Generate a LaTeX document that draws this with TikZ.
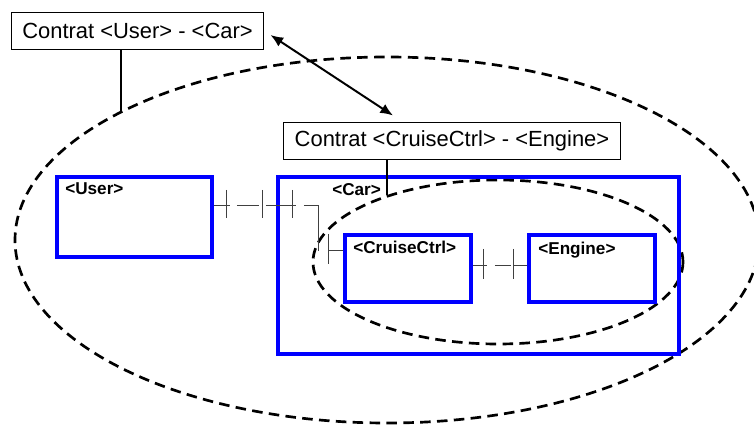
\documentclass[tikz,border=0pt]{standalone}
\usepackage{fontspec}
\setmainfont{Liberation Sans}
\usetikzlibrary{arrows.meta}

\tikzset{
  comp/.style={draw=blue, line width=2.8pt, anchor=north west, inner sep=0pt},
  complabel/.style={anchor=base west, inner sep=0pt, font=\fontsize{12.2}{14}\selectfont\bfseries},
  contract/.style={draw, fill=white, line width=0.7pt, minimum width=#1, minimum height=0.9cm, inner sep=0pt, font=\fontsize{15.6}{18}\selectfont},
  contour/.style={dash pattern=on 7.5pt off 4.5pt, line width=1.9pt},
  wire/.style={draw=black!75, line width=0.7pt},
  refine/.style={{Latex[length=9pt,width=7.5pt]}-{Latex[length=9pt,width=7.5pt]}, line width=1.4pt},
}

\begin{document}
\begin{tikzpicture}[x=0.025cm, y=-0.025cm]
    \useasboundingbox (0,0) rectangle (754,425);

    % Contract scopes
    \draw[contour] (387,240) ellipse [x radius=372, y radius=183];
    \draw[contour] (498,262) ellipse [x radius=185, y radius=82];

    % Components
    \node[comp, minimum width=3.875cm, minimum height=2cm] (user) at (55,175) {};
    \node[comp, minimum width=10.025cm, minimum height=4.425cm] (car) at (276,175) {};
    \node[comp, minimum width=3.15cm, minimum height=1.675cm] (cruise) at (343,233) {};
    \node[comp, minimum width=3.15cm, minimum height=1.675cm] (engine) at (527,233) {};

    % Component names
    \node[complabel] (userlbl) at (65,195) {<User>};
    \node[complabel] (carlbl) at (332,196) {<Car>};
    \node[complabel] (cruiselbl) at (353,254) {<CruiseCtrl>};
    \node[complabel] (enginelbl) at (538,255) {<Engine>};

    % Ports between User, Car and CruiseCtrl
    \draw[wire] ([shift={(0,-11)}]user.east) -- ++(16,0) ++(7,0) -- ++(22,0)
        ++(7,0) -- ++(30,0) ++(8,0) -- ++(15,0) -- ++(0,45);
    \draw[wire] ([shift={(-15,-17.5)}]cruise.west) -- ++(15,0);
    \foreach \tx in {226,262,292} {
        \draw[wire] (\tx,190) -- (\tx,218);
    }
    \draw[wire] (328,234) -- (328,264);

    % Ports between CruiseCtrl and Engine
    \draw[wire] ([shift={(0,-2.5)}]cruise.east) -- ++(14,0) ++(8,0) -- ++(16,0);
    \draw[wire] ([shift={(-14,-2.5)}]engine.west) -- ++(14,0);
    \foreach \tx in {483,513} {
        \draw[wire] (\tx,249) -- (\tx,279);
    }

    % Contracts
    \node[contract=6.275cm] (cuc) at (137.5,31) {Contrat <User> - <Car>};
    \node[contract=8.4cm] (cce) at (452,141) {Contrat <CruiseCtrl> - <Engine>};
    \draw[line width=1.4pt] ([shift={(-16.5,0)}]cuc.south) -- ++(0,63);
    \draw[line width=1.4pt] ([shift={(-65,0)}]cce.south) -- ++(0,36);

    % Contract refinement
    \draw[refine] ([shift={(7,4)}]cuc.east) -- ([shift={(-59,-7)}]cce.north);

\end{tikzpicture}
\end{document}
